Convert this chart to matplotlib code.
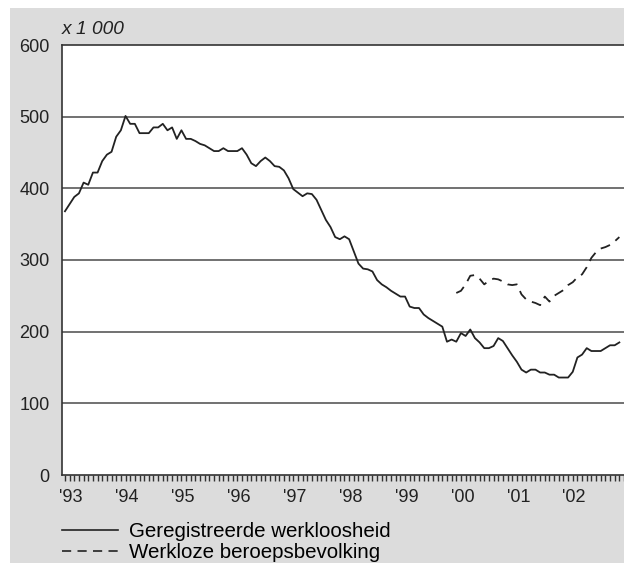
import matplotlib
matplotlib.use("Agg")
import matplotlib.pyplot as plt
from matplotlib.patches import Rectangle
from matplotlib.lines import Line2D
import matplotlib.transforms as mtransforms
import numpy as np

plt.rcParams['font.family'] = ['Liberation Sans', 'DejaVu Sans']

# Monthly data, Jan 1993 - Dec 2002 (x 1 000)
geregistreerd = [368, 378, 388, 393, 408, 405, 422, 422, 438, 447, 451, 472,
                 481, 501, 490, 490, 477, 477, 477, 485, 485, 490, 481, 485,
                 469, 481, 469, 469, 466, 462, 460, 456, 452, 452, 456, 452,
                 452, 452, 456, 447, 435, 431, 438, 443, 438, 431, 430, 425,
                 414, 399, 394, 389, 393, 392, 384, 370, 356, 346, 332, 329,
                 333, 329, 312, 295, 288, 287, 284, 272, 266, 262, 257, 253,
                 249, 249, 235, 233, 233, 224, 219, 215, 211, 207, 186, 189,
                 186, 198, 194, 203, 191, 185, 177, 177, 180, 191, 187, 177,
                 167, 158, 147, 143, 147, 147, 143, 143, 140, 140, 136, 136,
                 136, 144, 164, 168, 177, 173, 173, 173, 177, 181, 181, 185]
# Jan 2000 - Dec 2002
beroepsbevolking = [254, 257, 266, 278, 279, 274, 266, 271, 274, 273, 270, 266,
                    265, 266, 252, 245, 242, 240, 237, 249, 242, 250, 254, 258,
                    265, 269, 276, 280, 290, 303, 311, 316, 318, 321, 326, 332]
start_year = 1993
start_year_wb = 2000
year_labels = ["'93", "'94", "'95", "'96", "'97", "'98", "'99", "'00", "'01", "'02"]
yticks = [0, 100, 200, 300, 400, 500, 600]
legend_labels = ["Geregistreerde werkloosheid", "Werkloze beroepsbevolking"]

t1 = start_year + np.arange(len(geregistreerd)) / 12.0
t2 = start_year_wb + np.arange(len(beroepsbevolking)) / 12.0

W, H = 624, 563
fig = plt.figure(figsize=(W / 100, H / 100), dpi=100)
fig.patch.set_facecolor('white')
bg = Rectangle((10 / W, 0), 1 - 10 / W, 1 - 8 / H, transform=fig.transFigure,
               facecolor='#dcdcdc', edgecolor='none', zorder=-5)
fig.patches.append(bg)

ax = fig.add_axes([62 / W, 1 - 475 / H, 1 - 62 / W, (475 - 45) / H])
ax.set_zorder(1)
ax.set_facecolor('white')

ax.plot(t1, geregistreerd, color='#222222', lw=1.3, zorder=3)
ax.plot(t2, beroepsbevolking, color='#222222', lw=1.3, zorder=3,
        linestyle=(0, (5.5, 3.8)))

for v in yticks[1:-1]:
    ax.axhline(v, color='#4a4a4a', lw=1.1, zorder=1)

ax.set_ylim(0, 600)
ax.set_xlim(1992.947, 2002.93)
ax.set_yticks(yticks)
ax.set_yticklabels([str(v) for v in yticks], fontsize=13)
ax.tick_params(axis='y', length=0, pad=9, colors='#222222')

ax.set_xticks(start_year + np.arange(len(year_labels)) + 0.11)
ax.set_xticklabels(year_labels, fontsize=13)
ax.set_xticks(start_year + np.arange(121) / 12.0, minor=True)
ax.tick_params(axis='x', which='major', length=0, pad=10, colors='#222222')
ax.tick_params(axis='x', which='minor', length=4.5, width=1.0, color='#333333',
               direction='out')

for s in ['left', 'top', 'bottom']:
    ax.spines[s].set_color('#333333')
    ax.spines[s].set_linewidth(1.2)
ax.spines['right'].set_visible(False)

ax.text(0.0, 1.0, 'x 1 000', fontsize=13.8, style='italic', ha='left',
        va='bottom', color='#222222',
        transform=ax.transAxes + mtransforms.ScaledTranslation(0, 5 / 72, fig.dpi_scale_trans))

handles = [Line2D([], [], color='#222222', lw=1.2),
           Line2D([], [], color='#222222', lw=1.2, linestyle=(0, (5.5, 3.8)))]
fig.legend(handles, legend_labels, loc='upper left',
           bbox_to_anchor=(58 / W, 1 - 518 / H), frameon=False,
           fontsize=14.8, handlelength=2.7, handletextpad=0.55,
           labelspacing=0.08, borderaxespad=0, borderpad=0.2)

fig.savefig('out.png', dpi=100, facecolor=fig.get_facecolor())
